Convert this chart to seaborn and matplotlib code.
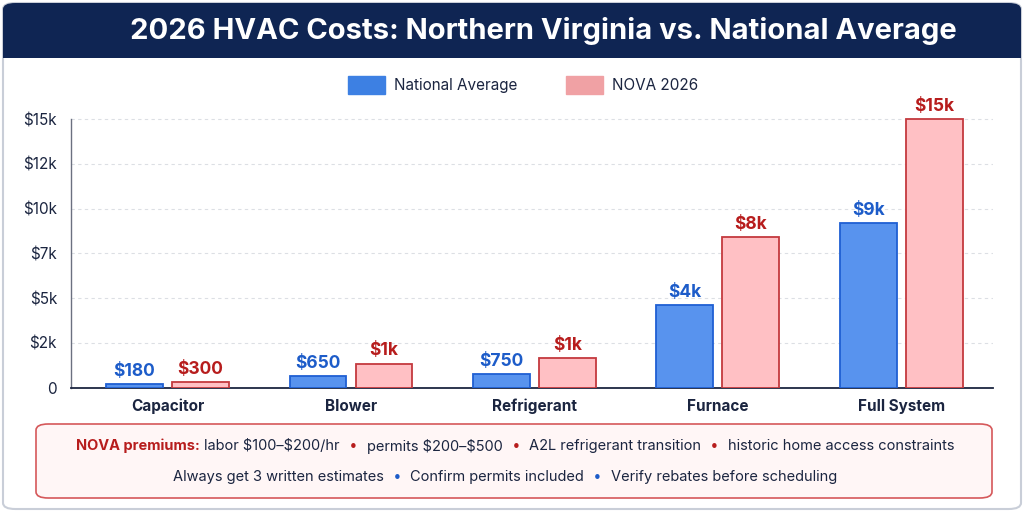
import numpy as np
import pandas as pd
import seaborn as sns
import matplotlib.pyplot as plt
from matplotlib.patches import FancyBboxPatch, Rectangle, Patch


components = ["Capacitor", "Blower", "Refrigerant", "Furnace", "Full System"]
series = ["National Average", "NOVA 2026"]
national_avg = [180, 650, 750, 4600, 9200]
nova_2026 = [300, 1350, 1650, 8400, 15000]
y_ticks = [0, 2500, 5000, 7500, 10000, 12500, 15000]

title = "2026 HVAC Costs: Northern Virginia vs. National Average"
premium_lead = "NOVA premiums:"
premium_items = ["labor $100–$200/hr", "permits $200–$500",
                 "A2L refrigerant transition", "historic home access constraints"]
tip_items = ["Always get 3 written estimates", "Confirm permits included",
             "Verify rebates before scheduling"]

NAVY = "#0f2553"
TEXT = "#1b2540"
BLUE_FILL, BLUE_EDGE, BLUE_TXT = "#5893ee", "#1f5fd3", "#1d5cc9"
PINK_FILL, PINK_EDGE, RED_TXT = "#ffc0c4", "#c4393e", "#b71d1d"


def money(v):
    if v == 0:
        return "0"
    if v >= 1000:
        return "$%dk" % (v // 1000)
    return "$%d" % v


df = pd.DataFrame({
    "component": components * 2,
    "cost": national_avg + nova_2026,
    "source": [series[0]] * len(components) + [series[1]] * len(components),
})

sns.set_theme(style="white")
plt.rcParams["font.family"] = ["Inter", "DejaVu Sans"]

W, H = 1024, 512
fig = plt.figure(figsize=(10.24, 5.12), dpi=100)

# card border and header band
fig.patches.append(FancyBboxPatch((3 / W, 3 / H), 1 - 6 / W, 1 - 6 / H,
                                  boxstyle="round,pad=0,rounding_size=0.012",
                                  transform=fig.transFigure, facecolor="white",
                                  edgecolor="#c9ced8", linewidth=1.5, zorder=-3))
fig.patches.append(FancyBboxPatch((3 / W, 1 - 58 / H), 1 - 6 / W, 55 / H,
                                  boxstyle="round,pad=0,rounding_size=0.012",
                                  transform=fig.transFigure, facecolor=NAVY,
                                  edgecolor="none", zorder=-2))
fig.patches.append(Rectangle((3 / W, 1 - 58 / H), 1 - 6 / W, 20 / H,
                             transform=fig.transFigure, facecolor=NAVY,
                             edgecolor="none", zorder=-2))
fig.text(543 / W, 1 - 31 / H, title, color="white", fontsize=21,
         fontweight="bold", ha="center", va="center")

ax = fig.add_axes([71 / W, 1 - 387.7 / H, 922 / W, 286.6 / H])
ax.set_zorder(2)
ax.set_facecolor("none")
sns.barplot(data=df, x="component", y="cost", hue="source",
            palette=[BLUE_FILL, PINK_FILL], saturation=1, width=0.72, gap=0.14,
            errorbar=None, legend=False, ax=ax, zorder=3)

for cont, edge, vals, col in [(ax.containers[0], BLUE_EDGE, national_avg, BLUE_TXT),
                              (ax.containers[1], PINK_EDGE, nova_2026, RED_TXT)]:
    for p in cont:
        p.set_edgecolor(edge)
        p.set_linewidth(1.3)
    ax.bar_label(cont, labels=[money(v) for v in vals], padding=3,
                 color=col, fontsize=12.5, fontweight="bold")

ax.set_xlim(-0.526, 4.5)
ax.set_ylim(0, 16000)
ax.set_yticks(y_ticks)
ax.set_yticklabels([money(v) for v in y_ticks], color=TEXT, fontsize=11)
ax.set_xticks(range(len(components)))
ax.set_xticklabels(components, color=TEXT, fontsize=11, fontweight="bold")
ax.tick_params(axis="both", length=0)
ax.tick_params(axis="y", pad=10)
ax.tick_params(axis="x", pad=8)
ax.set_xlabel("")
ax.set_ylabel("")
for y in y_ticks[1:]:
    ax.axhline(y, color="#dcdfe4", linewidth=0.8, linestyle=(0, (3, 3)), zorder=1)
for s in ["top", "right"]:
    ax.spines[s].set_visible(False)
ax.spines["left"].set_bounds(0, 15000)
ax.spines["left"].set_color("#6b7080")
ax.spines["left"].set_linewidth(1)
ax.spines["bottom"].set_color(TEXT)
ax.spines["bottom"].set_linewidth(1.3)

handles = [Patch(facecolor="#3d80e3", edgecolor="#3d80e3"),
           Patch(facecolor="#f0a1a4", edgecolor="#f0a1a4")]
fig.legend(handles, series, loc="center", bbox_to_anchor=(523 / W, 1 - 85 / H),
           ncol=2, frameon=False, fontsize=11, handlelength=2.4, handleheight=1.5,
           columnspacing=3.2, handletextpad=0.6, labelcolor=TEXT)

# notes box
fig.patches.append(FancyBboxPatch((36 / W, 1 - 498 / H), 956 / W, 74 / H,
                                  boxstyle="round,pad=0,rounding_size=0.012",
                                  transform=fig.transFigure, facecolor="#fff6f6",
                                  edgecolor="#d5585a", linewidth=1.2, zorder=1))


def rich_line(y_px, pieces, cx_px, size):
    renderer = fig.canvas.get_renderer()
    texts, gaps = [], []
    for s, color, weight, gap in pieces:
        t = fig.text(0, 1 - y_px / H, s, color=color, fontweight=weight,
                     fontsize=size, ha="left", va="center", parse_math=False)
        texts.append(t)
        gaps.append(gap)
    widths = [t.get_window_extent(renderer).width for t in texts]
    total = sum(widths) + sum(gaps[:-1])
    x = cx_px - total / 2
    for t, w, g in zip(texts, widths, gaps):
        t.set_x(x / W)
        x += w + g


line1 = [(premium_lead, RED_TXT, "bold", 5)]
for i, item in enumerate(premium_items):
    line1.append((item, TEXT, "normal", 10))
    if i < len(premium_items) - 1:
        line1.append(("•", RED_TXT, "bold", 10))
line2 = []
for i, item in enumerate(tip_items):
    line2.append((item, TEXT, "normal", 10))
    if i < len(tip_items) - 1:
        line2.append(("•", BLUE_TXT, "bold", 10))

rich_line(446, line1, 515, 10.5)
rich_line(477, line2, 505, 10.5)

plt.savefig("out.png", dpi=100)
